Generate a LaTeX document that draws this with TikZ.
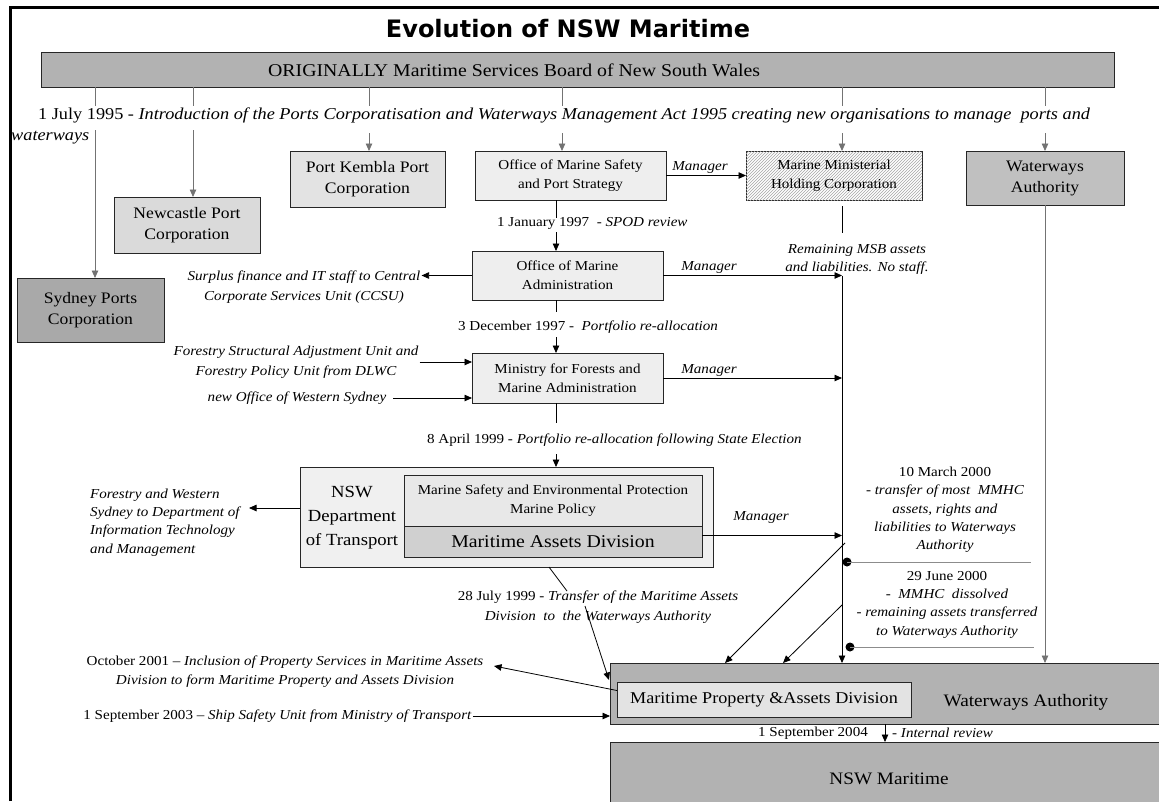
\documentclass[tikz,border=0pt]{standalone}
\usepackage{fontspec}
\setmainfont{Liberation Serif}[FakeStretch=1.1]
\newfontfamily\ttlfont{DejaVu Sans}
\usetikzlibrary{arrows.meta,patterns}
\definecolor{msbgray}{HTML}{B2B2B2}
\definecolor{boxlt}{HTML}{E3E3E3}
\definecolor{boxvlt}{HTML}{EEEEEE}
\definecolor{ncgray}{HTML}{DADADA}
\definecolor{sydgray}{HTML}{A9A9A9}
\definecolor{wagray}{HTML}{C0C0C0}
\definecolor{wagraytwo}{HTML}{B2B2B2}
\definecolor{dotout}{HTML}{F0F0F0}
\definecolor{dotin}{HTML}{E8E8E8}
\definecolor{dotbot}{HTML}{D0D0D0}
\newcommand\fsz[2]{\fontsize{#1}{#2}\selectfont}
\begin{document}
\begin{tikzpicture}[x=1pt,y=-1pt,
  bx/.style={draw=black!85, line width=0.8pt, inner sep=0pt, outer sep=0pt, align=center},
  tip/.style={-{Triangle[length=7.5pt,width=6.5pt]}},
  arr/.style={draw=black, line width=0.8pt, tip},
  arrplain/.style={draw=black, line width=0.8pt},
  ln/.style={draw=black!55, line width=0.8pt},
  lnarr/.style={draw=black!55, line width=0.8pt, tip},
  note/.style={font=\fsz{13.7}{18.5}, inner sep=1pt, align=center},
  boxtxt/.style={font=\fsz{16}{21}},
  smtxt/.style={font=\fsz{13.7}{19}}
]
\useasboundingbox (0,0) rectangle (1159,801);
\fill[white] (0,0) rectangle (1159,801);
% frame
\draw[line width=3pt] (10,801) -- (10,7.5) -- (1159,7.5);
% title
\node[font=\ttlfont\bfseries\fsz{24}{28}] (title) at (568,29) {Evolution of NSW Maritime};
% top bar
\node[bx, fill=msbgray, minimum width=1073pt, minimum height=35pt] (msb) at (577.5,69.5) {};
\node[font=\fsz{18}{22}, anchor=west, inner sep=0pt] (msbtxt) at (268,70) {ORIGINALLY Maritime Services Board of New South Wales};
% intro line
\node[font=\fsz{16.6}{20}, anchor=west, inner sep=0pt] (intro) at (38,115) {1 July 1995 - \textit{Introduction of the Ports Corporatisation and Waterways Management Act 1995 creating new organisations to manage\ \ ports and}};
\node[font=\fsz{16.6}{20}\itshape, anchor=west, inner sep=0pt] (intro2) at (11,138) {waterways};
% first-row boxes
\node[bx, boxtxt, fill=boxlt, minimum width=155pt, minimum height=56pt] (pk) at (367.5,179) {Port Kembla Port\\Corporation};
\node[bx, smtxt, fill=boxvlt, minimum width=191pt, minimum height=49pt] (omsps) at (570.5,175.5) {Office of Marine Safety\\and Port Strategy};
\node[bx, smtxt, fill=white, postaction={pattern=north east lines, pattern color=black!35}, minimum width=176pt, minimum height=49pt] (mmhc) at (834,175.5) {Marine Ministerial\\Holding Corporation};
\node[bx, font=\fsz{16}{21}, fill=wagray, minimum width=158pt, minimum height=54pt] (was) at (1045,178) {Waterways\\Authority};
\node[bx, boxtxt, fill=ncgray, minimum width=146pt, minimum height=56pt] (ncl) at (187,225) {Newcastle Port\\Corporation};
\node[bx, boxtxt, fill=sydgray, minimum width=147pt, minimum height=64pt] (syd) at (90.5,310) {Sydney Ports\\Corporation};
% middle chain
\node[bx, smtxt, fill=boxvlt, minimum width=191pt, minimum height=49pt] (oma) at (567.5,275.5) {Office of Marine\\Administration};
\node[bx, smtxt, fill=boxvlt, minimum width=191pt, minimum height=50pt] (mfma) at (567.5,378) {Ministry for Forests and\\Marine Administration};
\node[bx, fill=dotout, minimum width=413pt, minimum height=100pt] (dot) at (506.5,517) {};
\node[bx, smtxt, fill=dotin, minimum width=298pt, minimum height=51pt] (dota) at (553,500.5) {Marine Safety and Environmental Protection\\Marine Policy};
\node[bx, font=\fsz{18}{22}, fill=dotbot, minimum width=298pt, minimum height=31pt] (dotb) at (553,541.5) {Maritime Assets Division};
\node[font=\fsz{17}{24}, align=center, inner sep=0pt] (dottxt) at (352,518) {NSW\\Department\\of Transport};
% bottom boxes
\node[bx, fill=wagraytwo, minimum width=552pt, minimum height=61pt] (wab) at (886,693.5) {};
\node[font=\fsz{17.5}{22}, inner sep=0pt] (wabtxt) at (1026,702) {Waterways Authority};
\node[bx, font=\fsz{16.5}{20}, fill=boxlt, minimum width=294pt, minimum height=35pt] (mpad) at (764,699.5) {Maritime Property \&Assets Division};
\node[bx, fill=wagraytwo, minimum width=552pt, minimum height=68pt] (nswm) at (886,776) {};
\node[font=\fsz{17.5}{22}, inner sep=0pt] (nswmtxt) at (889,779) {NSW Maritime};
% notes
\node[note, anchor=west] (jan97) at (496,223) {1 January 1997\ \ - \textit{SPOD review}};
\node[note, anchor=west] (dec97) at (457,327) {3 December 1997 -\ \ \textit{Portfolio re-allocation}};
\node[note, anchor=west] (apr99) at (426,440) {8 April 1999 - \textit{Portfolio re-allocation following State Election}};
\node[note, font=\fsz{13.7}{20}\itshape] (surplus) at (304,287) {Surplus finance and IT staff to Central\\Corporate Services Unit (CCSU)};
\node[note, font=\fsz{13.7}{20}\itshape] (forestry) at (296,362) {Forestry Structural Adjustment Unit and\\Forestry Policy Unit from DLWC};
\node[note, font=\fsz{13.7}{20}\itshape] (wsyd) at (297,398) {new Office of Western Sydney};
\node[note, font=\fsz{13.7}{18.3}\itshape, align=left, anchor=west] (fw) at (89,522.5) {Forestry and Western\\Sydney to Department of\\Information Technology\\and Management};
\node[note, font=\fsz{13.7}{18.5}\itshape] (mgr1) at (700,167) {Manager};
\node[note, font=\fsz{13.7}{18.5}\itshape] (mgr2) at (709,267) {Manager};
\node[note, font=\fsz{13.7}{18.5}\itshape] (mgr3) at (709,370) {Manager};
\node[note, font=\fsz{13.7}{18.5}\itshape] (mgr4) at (761,517) {Manager};
\node[note, font=\fsz{13.7}{18}\itshape] (remain) at (857,259) {Remaining MSB assets\\and liabilities. No staff.};
\node[note, font=\fsz{13.7}{18.3}] (mar00) at (945,510) {10 March 2000\\\textit{- transfer of most\ \ MMHC}\\\textit{assets, rights and}\\\textit{liabilities to Waterways}\\\textit{Authority}};
\node[note, font=\fsz{13.7}{18.3}] (jun00) at (947,604.5) {29 June 2000\\\textit{-\ \ MMHC\ \ dissolved}\\\textit{- remaining assets transferred}\\\textit{to Waterways Authority}};
\node[note, font=\fsz{13.7}{20}] (jul99) at (598,607) {28 July 1999 - \textit{Transfer of the Maritime Assets}\\\textit{Division\ \ to\ \ the Waterways Authority}};
\node[note, font=\fsz{13.7}{19}] (oct01) at (285,671.5) {October 2001 -- \textit{Inclusion of Property Services in Maritime Assets}\\\textit{Division to form Maritime Property and Assets Division}};
\node[note] (sep03) at (277.5,716) {1 September 2003 -- \textit{Ship Safety Unit from Ministry of Transport}};
\node[note] (sep04) at (813,733) {1 September 2004};
\node[note, anchor=west] (intrev) at (891,733) {\textit{- Internal review}};
% coordinates
\coordinate (xA) at (95,0);
\coordinate (xB) at (193,0);
\coordinate (xC) at (369,0);
\coordinate (xD) at (562,0);
\coordinate (xE) at (842,0);
\coordinate (xF) at (1045,0);
\coordinate (xM) at (556,0);
\coordinate (xN) at (885,0);
% drops from the top bar
\draw[ln] (msb.south -| xA) -- ++(0,19);
\draw[lnarr] (msb.south -| xA) ++(0,43) -- (syd.north -| xA);
\draw[ln] (msb.south -| xB) -- ++(0,19);
\draw[lnarr] (msb.south -| xB) ++(0,43) -- (ncl.north -| xB);
\draw[ln] (msb.south -| xC) -- ++(0,19);
\draw[lnarr] (msb.south -| xC) ++(0,46) -- (pk.north -| xC);
\draw[ln] (msb.south -| xD) -- ++(0,19);
\draw[lnarr] (msb.south -| xD) ++(0,46) -- (omsps.north -| xD);
\draw[ln] (msb.south -| xE) -- ++(0,19);
\draw[lnarr] (msb.south -| xE) ++(0,46) -- (mmhc.north -| xE);
\draw[ln] (msb.south -| xF) -- ++(0,19);
\draw[lnarr] (msb.south -| xF) ++(0,46) -- (was.north -| xF);
% chain
\draw[arrplain] (omsps.south -| xM) -- ++(0,18);
\draw[arr] (oma.north -| xM) ++(0,-19) -- (oma.north -| xM);
\draw[arrplain] (oma.south -| xM) -- ++(0,12);
\draw[arr] (mfma.north -| xM) ++(0,-16) -- (mfma.north -| xM);
\draw[arrplain] (mfma.south -| xM) -- ++(0,20);
\draw[arr] (dot.north -| xM) ++(0,-13) -- (dot.north -| xM);
% managers
\draw[arr] (omsps.east) -- (mmhc.west);
\draw[arrplain] (mmhc.south -| xE) ++(0,6) -- ++(0,27);
\draw[arr] (oma.east -| xE) -- (wab.north -| xE);
\draw[arr] (oma.east) -- (oma.east -| xE);
\draw[arr] (mfma.east) -- (mfma.east -| xE);
\draw[arr] (dotb.east) ++(0,-6) -- ++(140,0);
% side arrows
\draw[arr] (oma.west) -- (oma.west -| surplus.east);
\draw[arr] (forestry.east) -- (forestry.east -| mfma.west);
\draw[arr] (wsyd.east) ++(6,0) -- (wsyd.east -| mfma.west);
\draw[arr] (dot.west) ++(0,-9) -- ++(-51,0);
% MMHC dissolution markers
\fill (847,562) circle (4.5pt);
\draw[draw=black!45, line width=0.8pt] (847,562) -- (1031,562);
\fill (850,647) circle (4.5pt);
\draw[draw=black!45, line width=0.8pt] (850,647) -- (1034,647);
\coordinate (d1s) at (845,543);
\coordinate (d1e) at (725,0);
\draw[arr] (d1s) -- (wab.north -| d1e);
\coordinate (d2s) at (842,605);
\coordinate (d2e) at (783,0);
\draw[arr] (d2s) -- (wab.north -| d2e);
% Waterways Authority line
\draw[lnarr] (was.south) -- (wab.north -| was.south);
% DoT -> Waterways
\coordinate (t28a) at (549,0);
\coordinate (t28b) at (567,591);
\coordinate (t28c) at (585,606);
\coordinate (t28d) at (609,680);
\draw[arrplain] (dot.south -| t28a) -- (t28b);
\draw[arr] (t28c) -- (t28d);
% MPAD -> October note
\coordinate (octtip) at (494,666);
\draw[arr] ([yshift=9pt]mpad.west) -- (octtip);
\draw[arr] (sep03.east) -- (sep03.east -| wab.west);
\draw[arr] (wab.south -| xN) -- (nswm.north -| xN);
\end{tikzpicture}
\end{document}
